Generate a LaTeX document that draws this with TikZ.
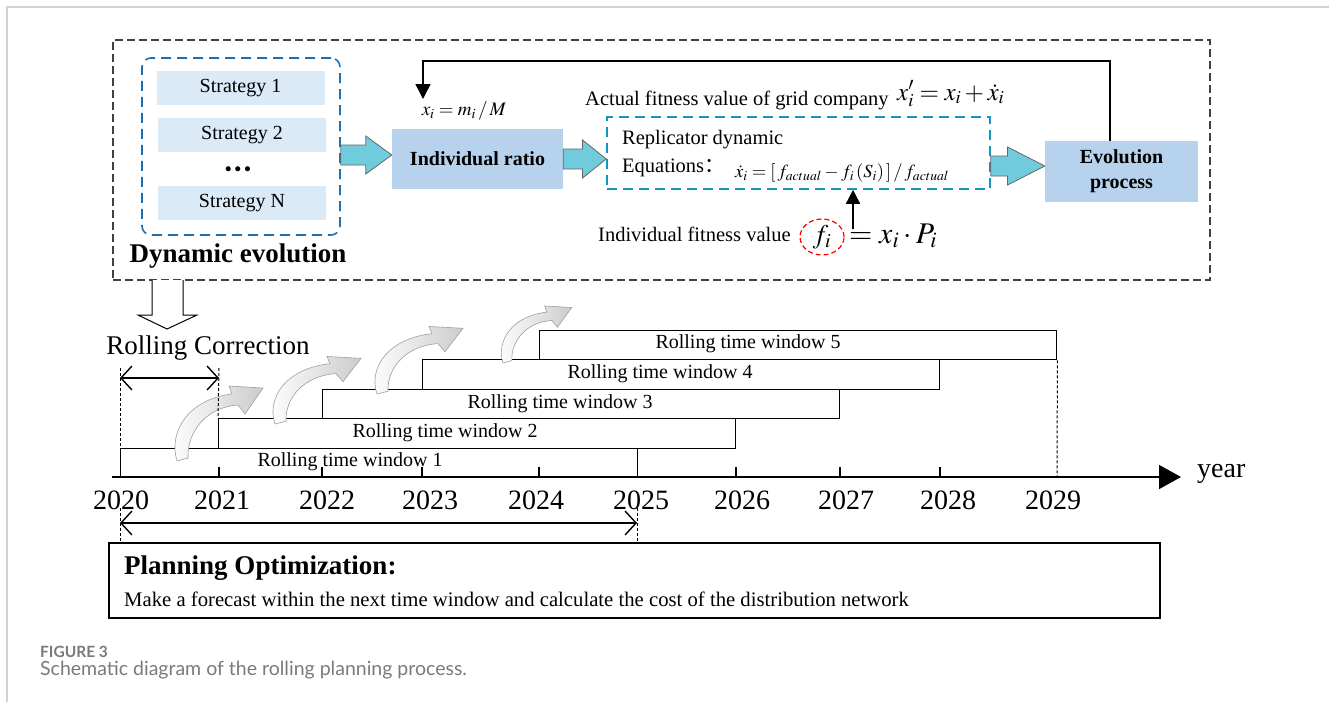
\documentclass[tikz,border=0pt]{standalone}
\usepackage{mathptmx}
\usepackage{fontspec}
\setmainfont{Liberation Serif}
\newfontfamily\capfont{Lato}
\newfontfamily\cjk{Noto Sans CJK SC}
\usetikzlibrary{arrows.meta,calc,shapes.geometric}

\definecolor{stratfill}{HTML}{DAEAF7}
\definecolor{boxfill}{HTML}{B6D2EC}
\definecolor{arrfill}{HTML}{70CBDC}
\definecolor{dashblue}{HTML}{1F6FAE}
\definecolor{capgray}{HTML}{7A7A7A}

\newcommand{\sz}[2]{\fontsize{#1}{#2}\selectfont}

% fat cyan arrow between two boxes: from, to, height, where the head starts
\newcommand{\fatarr}[4]{%
  \coordinate (fs) at (#1.east |- 0,#3);
  \coordinate (fe) at (#2.west |- 0,#3);
  \coordinate (fm) at ($(fs)!#4!(fe)$);
  \draw[fatarrow] ($(fs)+(0,-10)$) -- ($(fm)+(0,-10)$) -- ($(fm)+(0,-19)$) -- (fe)
    -- ($(fm)+(0,19)$) -- ($(fm)+(0,10)$) -- ($(fs)+(0,10)$) -- cycle;}

\tikzset{
  txt/.style={inner sep=0pt},
  strat/.style={fill=stratfill, minimum width=168pt, minimum height=34pt, inner sep=0pt, font=\sz{20}{22}},
  bluebox/.style={fill=boxfill, inner sep=0pt, font=\bfseries\sz{20}{25}, align=center},
  bluedash/.style={draw=dashblue, dash pattern=on 10pt off 6pt, line width=1.6pt, inner sep=0pt},
  fatarrow/.style={fill=arrfill, draw=gray!80!black, line width=0.8pt},
  fbarrow/.style={line width=1.5pt, -{Triangle[length=15pt,width=15pt]}},
  window/.style={draw, line width=1.4pt, inner sep=0pt, anchor=north west, minimum width=517pt, minimum height=29.5pt},
  winlabel/.style={font=\sz{20}{22}},
  dotline/.style={dash pattern=on 3pt off 2pt, line width=1pt},
  yearlabel/.style={font=\sz{28}{30}},
  barbs/.style={{Straight Barb[length=11pt,width=24pt]}-{Straight Barb[length=11pt,width=24pt]}, line width=1.4pt},
  curvshade/.style={left color=white, right color=gray!40, draw=gray!75, line width=0.6pt},
  curvarr/.pic={
    \draw[curvshade] (0,0) .. controls (-9,-30) and (12,-62) .. (55,-67)
      -- (52,-75) -- (86,-73) -- (68,-47) -- (61,-56)
      .. controls (30,-54) and (10,-30) .. (11,-3) -- cycle;
  }
}

\begin{document}
\begin{tikzpicture}[x=1pt, y=-1pt]
\useasboundingbox (0,0) rectangle (1329,702);
\draw[gray!35, line width=1.5pt] (7,702) -- (7,7) -- (1329,7);

% dynamic evolution part
\node[draw=black!75, dash pattern=on 8pt off 4pt, line width=1.2pt, minimum width=1097pt, minimum height=240pt] (top) at (661.5,160) {};
\node[bluedash, rounded corners=9pt, minimum width=198pt, minimum height=177pt] (grp) at (241,146.5) {};
\node[strat] (s1) at (240.5,88) {Strategy 1};
\node[strat] (s2) at (242,135) {Strategy 2};
\node[font=\sz{13}{13}] (dots) at (238,170) {$\bullet\,\bullet\,\bullet$};
\node[strat] (sN) at (242,203) {Strategy N};
\node[font=\bfseries\sz{27}{30}] (dynevo) at (238,256) {Dynamic evolution};

\node[bluebox, minimum width=171pt, minimum height=60pt] (ratio) at (477.5,159) {Individual ratio};
\node[font=\sz{19}{20}] (xilab) at (464,111) {$x_i = m_i\,/\,M$};
\node[bluedash, draw=dashblue!75!cyan, minimum width=383pt, minimum height=72pt] (repl) at (798.5,153) {};
\node[bluebox, minimum width=153pt, minimum height=61pt] (evol) at (1121.5,171.5) {Evolution\\process};

\fatarr{grp}{ratio}{155}{0.49}
\fatarr{ratio}{repl}{159}{0.45}
\fatarr{repl}{evol}{166}{0.31}

\node[txt, anchor=west, font=\sz{20.5}{22}] (actual) at (585,100) {Actual fitness value of grid company};
\node[txt, anchor=west, font=\sz{25}{27}] (actualeq) at (897,94) {$x_i' = x_i + \dot{x}_i$};
\node[txt, anchor=west, font=\sz{20.5}{22}] (repl1) at (622,140) {Replicator dynamic};
\node[txt, anchor=west, font=\sz{20.5}{22}] (repl2) at (622,168) {Equations{\cjk ：}};
\node[txt, anchor=west, font=\sz{18.5}{20}] (repleq) at (735,173) {$\dot{x}_i = [\,f_{actual} - f_i\,(S_i)\,]\,/\,f_{actual}$};

\node[txt, anchor=west, font=\sz{20.5}{22}] (indfit) at (598,234) {Individual fitness value};
\node[ellipse, draw=red, dash pattern=on 5pt off 3pt, line width=1.2pt, minimum width=44pt, minimum height=36pt, inner sep=0pt, font=\sz{27}{28}] (fi) at (822,237) {$f_i$};
\node[txt, anchor=west, font=\sz{30}{32}] (fieq) at (849,236) {$= x_i \cdot P_i$};

\coordinate (fbtip) at (423,99);
\draw[fbarrow] (evol.north -| 1110,0) |- (423,61) -- (fbtip);
\coordinate (upfoot) at (853,229);
\draw[line width=1.6pt, -{Triangle[length=14pt,width=14pt]}] (upfoot) -- (repl.south -| upfoot);

% rolling correction
\draw[line width=1pt, fill=white] (152,280) -- (152,315) -- (138,315) -- (167,329) -- (197,315) -- (183,315) -- (183,280);
\node[font=\sz{27}{30}] (rollcorr) at (208,348) {Rolling Correction};

\node[window] (win1) at (120,447.5) {};
\node[window] (win2) at (218,418) {};
\node[window] (win3) at (322,388.5) {};
\node[window] (win4) at (422,359) {};
\node[window] (win5) at (539,329.5) {};
\node[winlabel] (lab1) at (350,462) {Rolling time window 1};
\node[winlabel] (lab2) at (445,433) {Rolling time window 2};
\node[winlabel] (lab3) at (560,404) {Rolling time window 3};
\node[winlabel] (lab4) at (660,374) {Rolling time window 4};
\node[winlabel] (lab5) at (748,344) {Rolling time window 5};

\pic (ca1) at (177,461) {curvarr};
\pic[yscale=0.9] (ca2) at (275,424) {curvarr};
\pic[yscale=0.9] (ca3) at (377,394) {curvarr};
\pic[xscale=0.8, yscale=0.76] (ca4) at (503,363) {curvarr};

\coordinate (rc1) at (120,378);
\coordinate (rc2) at (219,378);
\draw[barbs] (rc1) -- (rc2);
\draw[dotline] (120,368) -- (win1.north west);
\draw[dotline] (219,368) -- (win2.north west);

% time axis
\coordinate (ax0) at (112,477);
\coordinate (ax1) at (1181,477);
\draw[line width=1.5pt, -{Triangle[length=22pt,width=24pt]}] (ax0) -- (ax1);
\node[txt, anchor=west, font=\sz{28}{30}] (yearlab) at (1197,474) {year};
\foreach \x in {219,322,422,539,736,840,940}
  \draw[line width=1.2pt] (\x,477) -- (\x,467);
\draw[dotline] (win5.south east) -- (1057,477);
\foreach \yr/\x in {2020/121,2021/222,2022/327,2023/430,2024/536,2025/641,2026/742,2027/846,2028/948,2029/1053}
  \node[yearlabel] (y\yr) at (\x,500) {\yr};

% planning optimization
\node[draw, line width=1.2pt, minimum width=1051pt, minimum height=75pt, inner sep=0pt] (plan) at (634.5,580.5) {};
\coordinate (po1) at (120,523);
\coordinate (po2) at (637,523);
\draw[barbs] (po1) -- (po2);
\draw[dotline] (120,508) -- (plan.north -| po1);
\draw[dotline] (637,508) -- (plan.north -| po2);
\node[txt, anchor=west, font=\bfseries\sz{27}{30}] (plantitle) at (124,568) {Planning Optimization:};
\node[txt, anchor=west, font=\sz{20.7}{22}] (plantext) at (124,599) {Make a forecast within the next time window and calculate the cost of the distribution network};

% caption
\node[txt, anchor=west, font=\capfont\bfseries\sz{15.5}{17}, text=capgray] (figno) at (40,652) {FIGURE 3};
\node[txt, anchor=west, font=\capfont\sz{19.5}{21}, text=capgray] (caption) at (40,670) {Schematic diagram of the rolling planning process.};
\end{tikzpicture}
\end{document}
